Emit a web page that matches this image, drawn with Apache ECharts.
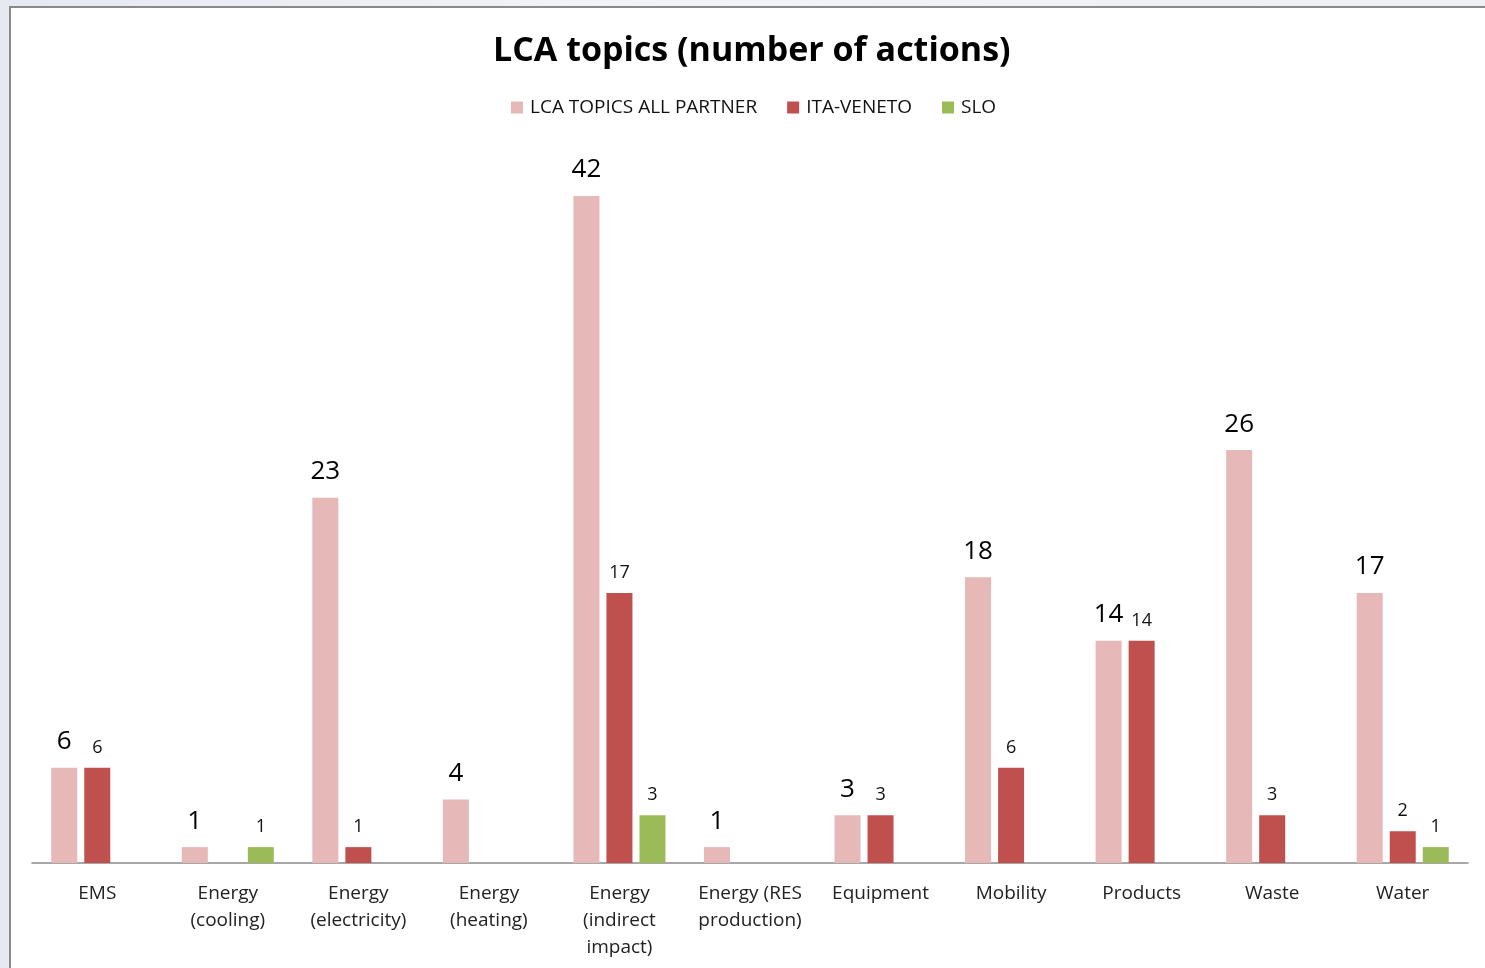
<!DOCTYPE html>
<html>
<head>
<meta charset="utf-8">
<script src="https://cdn.jsdelivr.net/npm/echarts@6/dist/echarts.min.js"></script>
<style>
html, body { margin: 0; padding: 0; }
body {
  width: 1485px; height: 968px; overflow: hidden;
  background: linear-gradient(90deg, #e6e8f2 0%, #f2f3f6 40%, #eef0f3 100%);
  position: relative;
}
#frame {
  position: absolute; left: 9px; top: 6px; width: 1490px; height: 980px;
  background: #ffffff;
  border-top: 2px solid #8a8a8a; border-left: 2px solid #8a8a8a;
}
#chart { position: absolute; left: 0; top: 0; width: 1485px; height: 968px; }
</style>
</head>
<body>
<div id="frame"></div>
<div id="chart"></div>
<script>
// categories and values
var topics = ['EMS', 'Energy\n(cooling)', 'Energy\n(electricity)', 'Energy\n(heating)',
  'Energy\n(indirect\nimpact)', 'Energy (RES\nproduction)', 'Equipment', 'Mobility',
  'Products', 'Waste', 'Water']
var allPartner = [6, 1, 23, 4, 42, 1, 3, 18, 14, 26, 17]
var itaVeneto = [6, null, 1, null, 17, null, 3, 6, 14, 3, 2]
var slo = [null, 1, null, null, 3, null, null, null, null, null, 1]

var fontFam = '"Open Sans", "Noto Sans", sans-serif'
var chart = echarts.init(document.getElementById('chart'))

function smallLabel () {
  return {
    show: true,
    position: 'top',
    distance: 11,
    fontSize: 18,
    color: '#111',
    fontFamily: fontFam
  }
}

chart.setOption({
  animation: false,
  textStyle: { fontFamily: fontFam },
  title: {
    text: 'LCA topics (number of actions)',
    left: 488,
    top: 29,
    textStyle: { fontSize: 34, fontWeight: 'bold', color: '#000', fontFamily: fontFam }
  },
  legend: {
    top: 93,
    left: 506,
    itemWidth: 12,
    itemHeight: 12,
    itemGap: 30,
    icon: 'rect',
    textStyle: { fontSize: 19, color: '#111', fontFamily: fontFam, padding: [0, 0, 0, 2] },
    data: ['LCA TOPICS ALL PARTNER', 'ITA-VENETO', 'SLO']
  },
  grid: { left: 32, right: 17, top: 196, bottom: 105 },
  xAxis: {
    type: 'category',
    data: topics,
    axisLine: { lineStyle: { color: '#8a8a8a', width: 1.5 } },
    axisTick: { show: false },
    axisLabel: {
      interval: 0,
      margin: 17,
      fontSize: 19,
      lineHeight: 27,
      color: '#222',
      fontFamily: fontFam
    }
  },
  yAxis: {
    type: 'value',
    min: 0,
    max: 42,
    show: false,
    splitLine: { show: false }
  },
  series: [
    {
      name: 'LCA TOPICS ALL PARTNER',
      type: 'bar',
      data: allPartner,
      barWidth: 26,
      barGap: '27%',
      itemStyle: { color: '#e6b8b7' },
      label: { show: true, position: 'top', distance: 13, fontSize: 26, color: '#000', fontFamily: fontFam }
    },
    {
      name: 'ITA-VENETO',
      type: 'bar',
      data: itaVeneto,
      barWidth: 26,
      barGap: '27%',
      itemStyle: { color: '#c0504d' },
      label: smallLabel()
    },
    {
      name: 'SLO',
      type: 'bar',
      data: slo,
      barWidth: 26,
      barGap: '27%',
      itemStyle: { color: '#9bbb59' },
      label: smallLabel()
    }
  ]
})
</script>
</body>
</html>
